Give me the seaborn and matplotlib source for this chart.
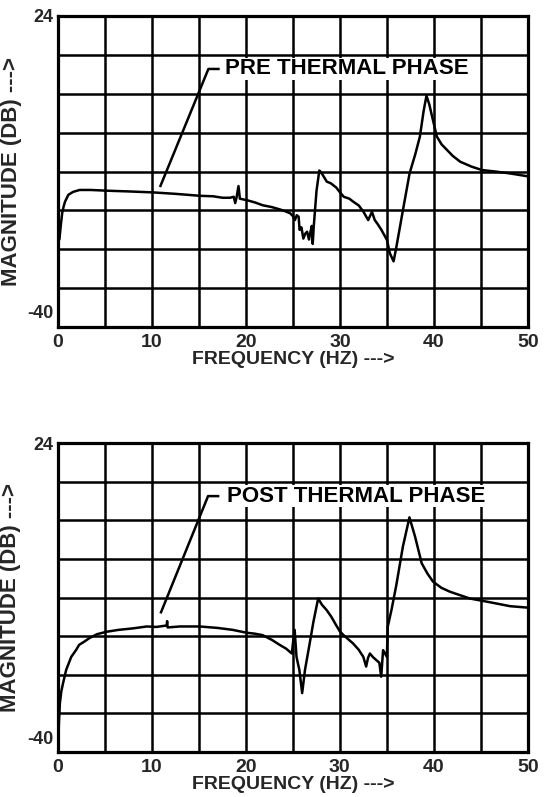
import numpy as np
import pandas as pd
import matplotlib
matplotlib.use("Agg")
import matplotlib.pyplot as plt
import matplotlib.transforms as mtransforms
import seaborn as sns

# ---------------- data ----------------
pre_freq = [0.15, 0.3, 0.45, 0.6, 0.75, 1.1, 1.6, 2.3, 3.5, 5.2, 7.5, 10.1, 12.5, 15.1,
            16.5, 17.5, 18.3, 18.7, 18.85, 19.0, 19.2, 19.35, 20.1, 21.0, 21.8, 22.7,
            23.6, 24.2, 24.7, 25.0, 25.2, 25.4, 25.6, 25.7, 25.9, 26.1, 26.3, 26.5,
            26.7, 26.85, 27.0, 27.1, 27.2, 27.5, 27.8, 28.0, 28.6, 29.0, 29.6, 30.0,
            30.4, 31.0, 31.4, 32.0, 32.5, 33.0, 33.4, 33.7, 34.0, 34.4, 35.0, 35.3,
            35.7, 36.0, 36.7, 37.4, 38.0, 38.5, 38.9, 39.2, 39.5, 39.8, 40.3, 40.8,
            41.4, 42.0, 42.8, 44.0, 45.1, 46.5, 48.1, 50.0]
pre_mag = [-22.0, -19.0, -16.5, -15.2, -14.2, -12.8, -12.2, -11.8, -11.8, -11.95, -12.1,
           -12.3, -12.6, -13.0, -13.1, -13.4, -13.4, -13.2, -14.5, -13.3, -11.0, -13.6,
           -13.9, -14.4, -14.96, -15.3, -15.8, -16.2, -16.6, -17.2, -18.0, -17.0, -17.3,
           -20.0, -19.5, -21.8, -20.8, -20.4, -22.0, -20.5, -19.2, -22.9, -19.5, -12.0,
           -7.8, -8.2, -10.1, -10.4, -11.3, -12.3, -13.2, -13.6, -14.2, -15.0, -16.3,
           -18.0, -16.3, -18.0, -18.8, -20.0, -22.1, -24.8, -26.5, -23.5, -15.9, -8.4,
           -4.5, -0.8, 4.5, 7.6, 5.8, 3.3, -0.8, -2.4, -3.6, -4.8, -6.0, -7.0, -7.7,
           -8.0, -8.4, -9.0]

post_freq = [0.08, 0.15, 0.25, 0.4, 0.56, 0.92, 1.46, 2.0, 2.3, 2.8, 3.4, 4.2, 5.2, 6.5,
             8.0, 9.5, 10.5, 11.6, 11.65, 11.7, 13.0, 15.1, 17.0, 18.6, 20.1, 21.0, 21.8,
             22.8, 23.6, 24.3, 24.9, 25.05, 25.2, 25.4, 25.7, 26.0, 26.3, 26.8, 27.2,
             27.7, 28.1, 28.6, 29.1, 29.6, 30.0, 30.4, 31.4, 32.0, 32.5, 32.8, 33.0,
             33.2, 33.5, 33.9, 34.2, 34.4, 34.6, 35.0, 35.1, 35.5, 36.0, 36.7, 37.4,
             38.0, 38.7, 39.3, 39.9, 40.8, 41.7, 43.8, 46.0, 48.1, 50.0]
post_mag = [-38.0, -34.0, -30.0, -27.5, -26.0, -23.0, -20.3, -18.8, -17.8, -17.2, -16.4,
            -15.6, -15.1, -14.7, -14.4, -14.0, -14.1, -13.8, -12.9, -14.2, -14.0, -14.0,
            -14.3, -14.7, -15.3, -15.5, -15.8, -16.8, -17.8, -18.6, -19.6, -17.0, -14.7,
            -20.3, -23.0, -27.8, -23.0, -17.5, -13.0, -8.2, -9.5, -10.6, -12.0, -13.7,
            -15.0, -15.8, -17.5, -18.8, -20.3, -22.3, -20.5, -19.6, -20.3, -21.0, -21.5,
            -24.4, -18.9, -20.3, -14.0, -10.5, -5.5, 2.5, 8.6, 4.6, -0.9, -3.0, -4.7,
            -6.0, -6.8, -8.2, -9.0, -9.8, -10.1]

x_ticks = [0, 5, 10, 15, 20, 25, 30, 35, 40, 45, 50]
x_labels = ["0", "", "10", "", "20", "", "30", "", "40", "", "50"]
y_ticks = [-40, -32, -24, -16, -8, 0, 8, 16, 24]
y_labels = ["-40", "", "", "", "", "", "", "", "24"]

titles = ["PRE THERMAL PHASE", "POST THERMAL PHASE"]
# leader line for label (freq, dB) points
leaders = [([17.2, 16.0, 10.85], [13.1, 13.1, -11.2]),
           ([17.2, 16.0, 10.95], [13.0, 13.0, -11.3])]
label_pos = [(17.8, 13.1), (18.0, 13.0)]

# ---------------- plotting ----------------
sns.set_theme(style="white")
plt.rcParams['font.family'] = ['Liberation Sans', 'DejaVu Sans']

W, H = 547, 797
fig = plt.figure(figsize=(W / 100, H / 100), dpi=100)
ax1 = fig.add_axes([58 / W, 1 - 327 / H, 470 / W, 311 / H])
ax2 = fig.add_axes([57.5 / W, 1 - 752 / H, 470.5 / W, 309 / H])

datasets = [pd.DataFrame({"freq": pre_freq, "mag": pre_mag}),
            pd.DataFrame({"freq": post_freq, "mag": post_mag})]

for i, (ax, df) in enumerate(zip([ax1, ax2], datasets)):
    sns.lineplot(data=df, x="freq", y="mag", ax=ax, color="black", lw=1.8,
                 sort=False, estimator=None)
    ax.set_xlim(0, 50)
    ax.set_ylim(-40, 24)
    ax.set_xticks(x_ticks)
    ax.set_xticklabels(x_labels, fontsize=14, fontweight="bold")
    ax.set_yticks(y_ticks)
    ax.set_yticklabels(y_labels, fontsize=13, fontweight="bold")
    ax.tick_params(length=0, pad=5)
    ax.tick_params(axis="y", pad=3)
    ax.grid(True, color="black", lw=1.8)
    ax.set_axisbelow(True)
    for sp in ax.spines.values():
        sp.set_visible(True)
        sp.set_color("black")
        sp.set_linewidth(2.3)
    ax.set_xlabel("FREQUENCY (HZ) --->", fontsize=14, fontweight="bold", labelpad=0)
    ax.set_ylabel("MAGNITUDE (DB) --->", fontsize=16, fontweight="bold")
    ax.yaxis.set_label_coords(-36 / 470, 0.5)
    # shift -40 label up a bit as in reference
    t0 = ax.yaxis.get_major_ticks()[0]
    off = mtransforms.ScaledTranslation(0, 15 / 100, fig.dpi_scale_trans)
    t0.label1.set_transform(t0.label1.get_transform() + off)
    lx, ly = leaders[i]
    ax.plot(lx, ly, color="black", lw=1.8, solid_capstyle="butt")
    ax.text(label_pos[i][0], label_pos[i][1], titles[i], fontsize=16,
            fontweight="bold", va="center", ha="left", color="black",
            bbox=dict(facecolor="white", edgecolor="none", pad=0.5))

fig.savefig("out.png", dpi=100)
